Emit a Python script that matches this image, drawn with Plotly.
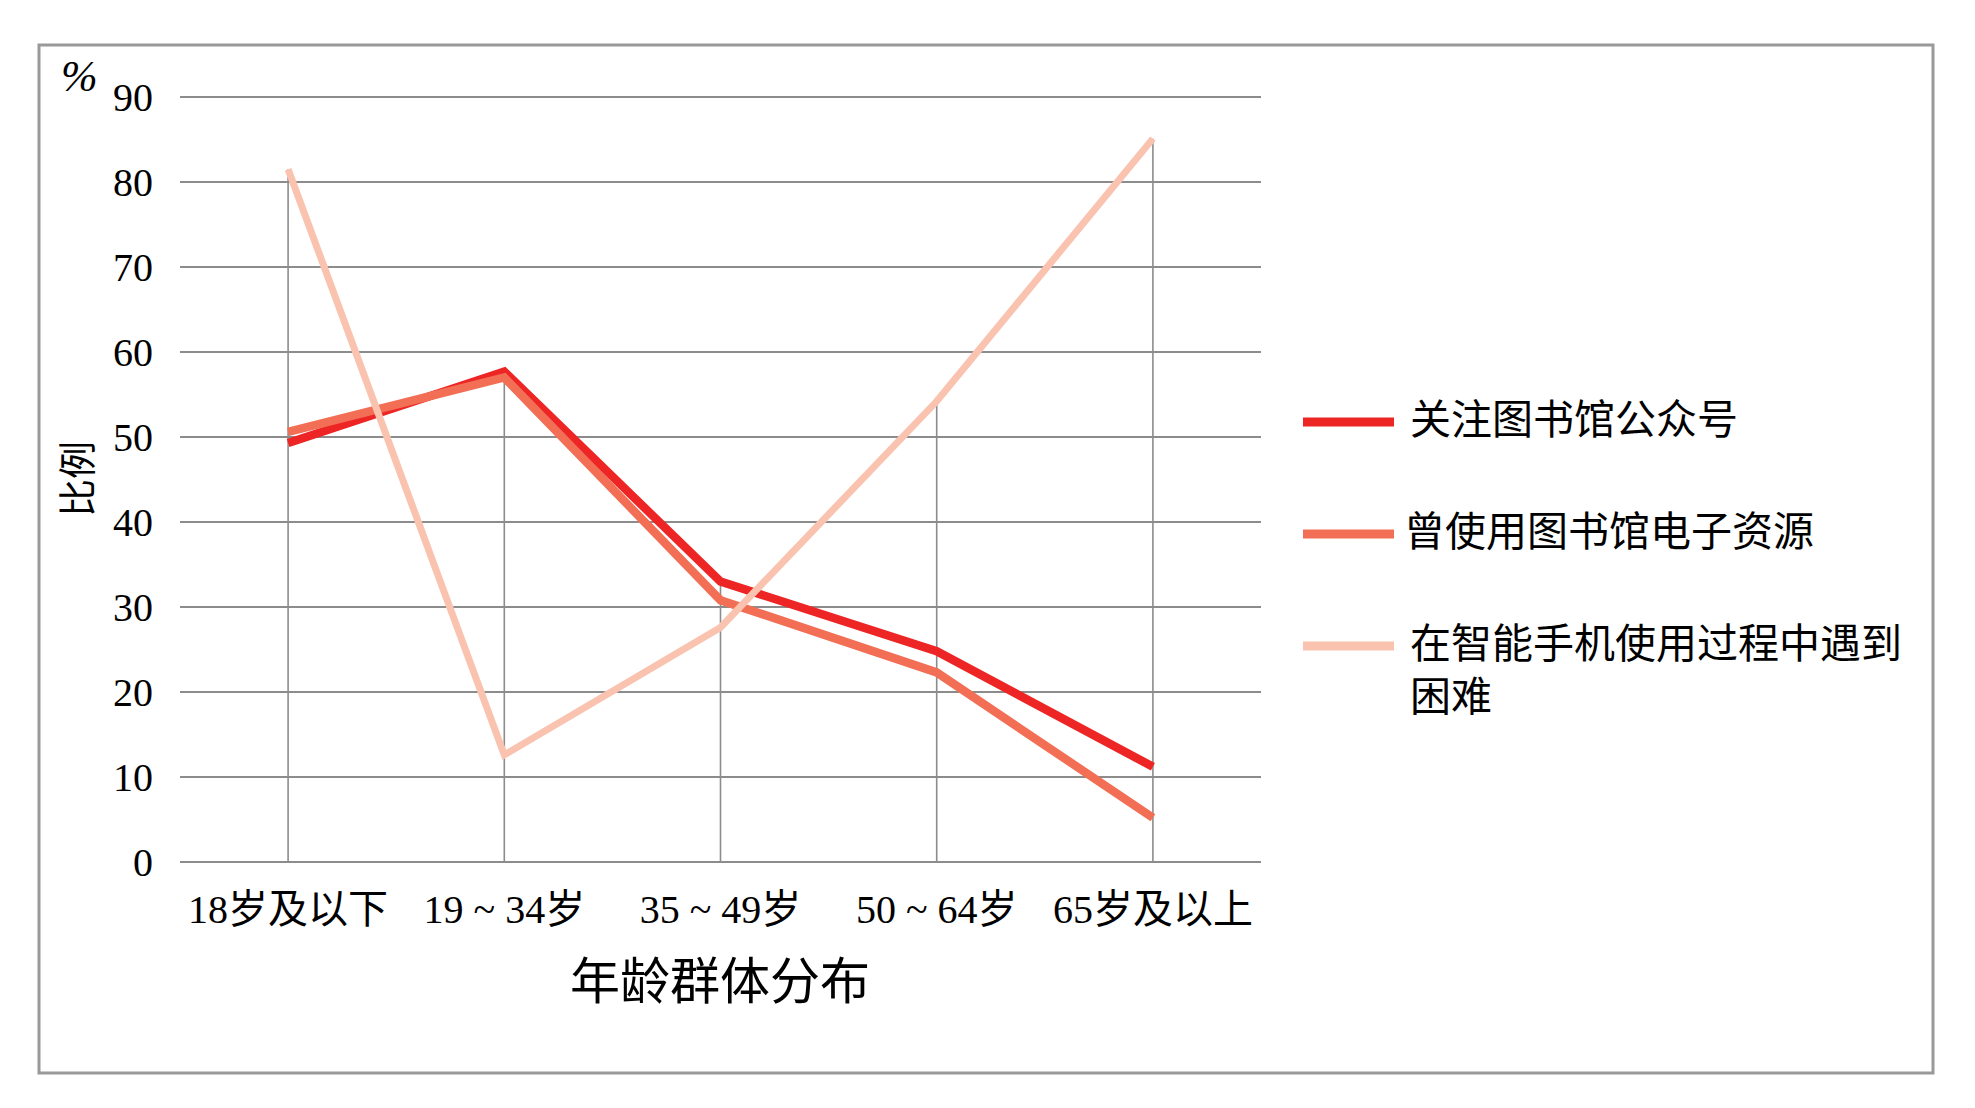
import plotly.graph_objects as go

categories = ["18岁及以下", "19 ~ 34岁", "35 ~ 49岁", "50 ~ 64岁", "65岁及以上"]
series_names = ["关注图书馆公众号", "曾使用图书馆电子资源", "在智能手机使用过程中遇到<br>困难"]
follow_account = [49.3, 57.7, 33.0, 24.8, 11.2]
used_e_resources = [50.6, 57.0, 30.8, 22.3, 5.2]
smartphone_difficulty = [81.5, 12.6, 27.6, 54.2, 85.1]
y_ticks = [0, 10, 20, 30, 40, 50, 60, 70, 80, 90]

OFF = 8  # page body margin
W, H = 1975 - 2 * OFF, 1108 - 2 * OFF
PL, PR, PT, PB = 180 - OFF, 1261 - OFF, 97 - OFF, 862 - OFF
ML, MR, MT, MB = PL, W - PR, PT - 2, H - PB
FONT = "Liberation Serif, Noto Sans CJK SC, serif"
GRID = "#8c8c8c"

pw = PR - PL
ph = PB - (PT - 2)

def px(x):
    return (x - OFF - PL) / pw

def py(y):
    return 1 - (y - OFF - (PT - 2)) / ph

fig = go.Figure()

# drop lines (from axis up to highest point per category)
series_all = [follow_account, used_e_resources, smartphone_difficulty]
dx, dy = [], []
for i, c in enumerate(categories):
    dx += [c, c, None]
    dy += [0, max(s[i] for s in series_all), None]
fig.add_trace(go.Scatter(x=dx, y=dy, mode="lines", line=dict(color=GRID, width=1.6),
                         showlegend=False, hoverinfo="skip"))

colors = ["#ed2524", "#f26e55", "#fac3af"]
widths = [8.5, 8.5, 7]
for name, vals, col, w in zip(series_names, series_all, colors, widths):
    fig.add_trace(go.Scatter(x=categories, y=vals, mode="lines", name=name,
                             showlegend=False,
                             line=dict(color=col, width=w)))

# manual legend (positions in full-page pixels)
legend_y = [422, 534, 646]
legend_text_x = [1408, 1402, 1408]
shapes = [dict(type="rect", xref="paper", yref="paper",
               x0=px(39), x1=px(1933), y0=py(1073), y1=py(45),
               line=dict(color="#999999", width=3), fillcolor="rgba(0,0,0,0)", layer="below")]
annotations = [
    dict(text="年龄群体分布", xref="paper", yref="paper", x=px(720), y=py(982),
         showarrow=False, font=dict(size=50), xanchor="center", yanchor="middle"),
    dict(text="比例", xref="paper", yref="paper", x=px(78), y=py(479),
         showarrow=False, textangle=-90, font=dict(size=38), xanchor="center", yanchor="middle"),
    dict(text="<i>%</i>", xref="paper", yref="paper", x=px(79), y=py(76),
         showarrow=False, font=dict(size=44), xanchor="center", yanchor="middle"),
]
for name, col, w, ly, tx in zip(series_names, colors, widths, legend_y, legend_text_x):
    shapes.append(dict(type="line", xref="paper", yref="paper",
                       x0=px(1303), x1=px(1394), y0=py(ly), y1=py(ly),
                       line=dict(color=col, width=9)))
    annotations.append(dict(text=name, xref="paper", yref="paper", x=px(tx), y=py(ly - 27),
                            showarrow=False, font=dict(size=41), xanchor="left", yanchor="top",
                            align="left"))

# small headroom so that the 90 gridline is drawn inside the plot area
y_top = 90 + 90 * 2 / (PB - PT)

fig.update_layout(
    width=W, height=H, autosize=False,
    margin=dict(l=ML, r=MR, t=MT, b=MB, pad=0),
    paper_bgcolor="white", plot_bgcolor="white",
    font=dict(family=FONT, size=40, color="black"),
    xaxis=dict(type="category", range=[-0.5, 4.5], showgrid=False, zeroline=False,
               showline=False, ticks="", tickfont=dict(size=40), ticklabelstandoff=20,
               fixedrange=True),
    yaxis=dict(range=[0, y_top], tickvals=y_ticks, showgrid=True, gridcolor=GRID, gridwidth=2,
               zeroline=True, zerolinecolor=GRID, zerolinewidth=2, showline=False, ticks="",
               tickfont=dict(size=40), ticklabelstandoff=26, fixedrange=True),
    showlegend=False,
    shapes=shapes,
    annotations=annotations,
)

fig.write_html("out.html")
